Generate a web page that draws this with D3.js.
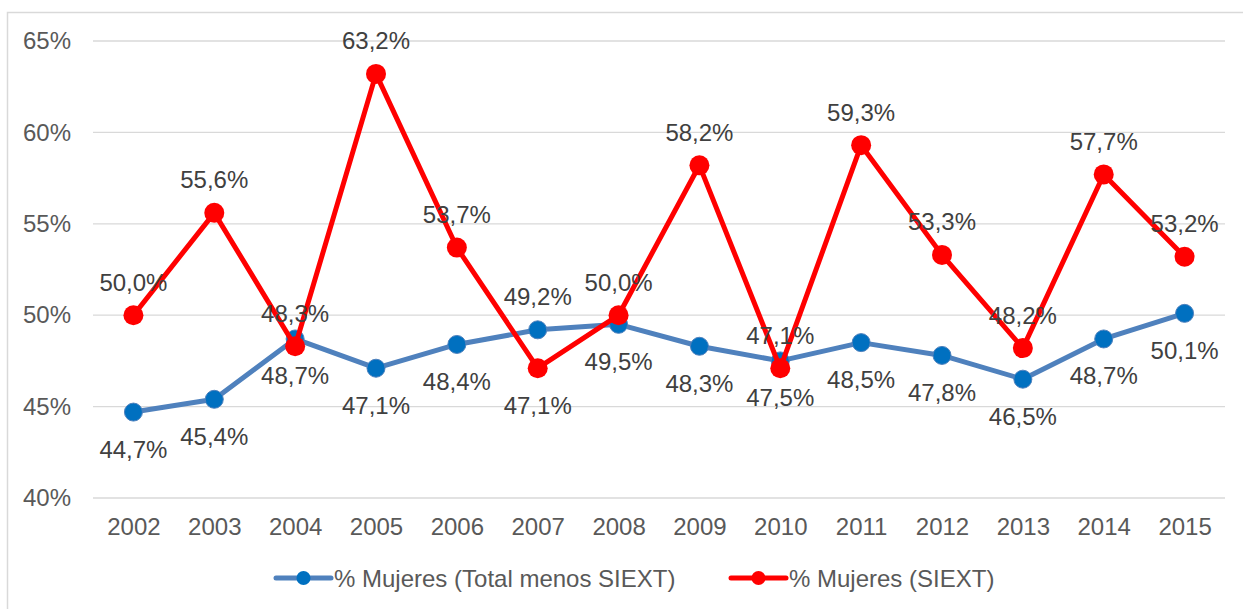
<!DOCTYPE html>
<html>
<head>
<meta charset="utf-8">
<script src="https://cdn.jsdelivr.net/npm/d3@7"></script>
<style>
  body { margin: 0; background: #fff; }
  svg { display: block; font-family: "Liberation Sans", Arial, sans-serif; }
</style>
</head>
<body>
<div id="chart"></div>
<script>
// Categories and series
const years = ["2002", "2003", "2004", "2005", "2006", "2007", "2008", "2009", "2010", "2011", "2012", "2013", "2014", "2015"];
const totalMenosSiext = [44.7, 45.4, 48.7, 47.1, 48.4, 49.2, 49.5, 48.3, 47.5, 48.5, 47.8, 46.5, 48.7, 50.1];
const siext = [50.0, 55.6, 48.3, 63.2, 53.7, 47.1, 50.0, 58.2, 47.1, 59.3, 53.3, 48.2, 57.7, 53.2];
const yTicks = [40, 45, 50, 55, 60, 65];
const seriesNames = ["% Mujeres (Total menos SIEXT)", "% Mujeres (SIEXT)"];

// years whose label sits on the other side of the point
const blueFlip = ["2007"];
const redFlip = ["2007"];

const W = 1243, H = 609;
const plotLeft = 93, plotRight = 1225, plotTop = 41, plotBottom = 498;
const fontSize = 24;

const svg = d3.select("#chart").append("svg")
    .attr("width", W)
    .attr("height", H);

// outer chart border (only left and top are inside the frame)
svg.append("rect")
    .attr("x", 7.5).attr("y", 12.5)
    .attr("width", W + 20).attr("height", H + 20)
    .attr("fill", "none")
    .attr("stroke", "#d9d9d9")
    .attr("stroke-width", 1.5);

const x = d3.scalePoint().domain(years).range([plotLeft, plotRight]).padding(0.5);
const y = d3.scaleLinear().domain([40, 65]).range([plotBottom, plotTop]);

const fmt = v => d3.format(".1f")(v).replace(".", ",") + "%";

// gridlines
svg.append("g")
    .selectAll("line")
    .data(yTicks)
    .join("line")
    .attr("x1", plotLeft).attr("x2", plotRight)
    .attr("y1", d => y(d)).attr("y2", d => y(d))
    .attr("stroke", "#d9d9d9")
    .attr("stroke-width", 1.3);

// y axis labels
const yAxis = svg.append("g")
    .attr("transform", `translate(${plotLeft},0)`)
    .call(d3.axisLeft(y).tickValues(yTicks).tickSize(0).tickPadding(22).tickFormat(d => d + "%"));
yAxis.select(".domain").remove();
yAxis.selectAll("text")
    .attr("font-size", fontSize)
    .attr("font-family", "Liberation Sans, Arial, sans-serif")
    .attr("fill", "#595959");

// x axis labels
const xAxis = svg.append("g")
    .attr("transform", `translate(0,${plotBottom})`)
    .call(d3.axisBottom(x).tickSize(0).tickPadding(20));
xAxis.select(".domain").remove();
xAxis.selectAll("text")
    .attr("font-size", fontSize)
    .attr("font-family", "Liberation Sans, Arial, sans-serif")
    .attr("fill", "#595959");

const blueData = years.map((yr, i) => ({ year: yr, value: totalMenosSiext[i] }));
const redData = years.map((yr, i) => ({ year: yr, value: siext[i] }));

const line = d3.line().x(d => x(d.year)).y(d => y(d.value));

// blue series
svg.append("path")
    .datum(blueData)
    .attr("d", line)
    .attr("fill", "none")
    .attr("stroke", "#4f81bd")
    .attr("stroke-width", 5)
    .attr("stroke-linejoin", "round");

svg.append("g")
    .selectAll("circle")
    .data(blueData)
    .join("circle")
    .attr("cx", d => x(d.year))
    .attr("cy", d => y(d.value))
    .attr("r", 9)
    .attr("fill", "#0070c0")
    .attr("stroke", "#4f81bd")
    .attr("stroke-width", 1);

// red series
svg.append("path")
    .datum(redData)
    .attr("d", line)
    .attr("fill", "none")
    .attr("stroke", "#ff0000")
    .attr("stroke-width", 5)
    .attr("stroke-linejoin", "round");

svg.append("g")
    .selectAll("circle")
    .data(redData)
    .join("circle")
    .attr("cx", d => x(d.year))
    .attr("cy", d => y(d.value))
    .attr("r", 10)
    .attr("fill", "#ff0000");

// data labels
function addLabels(data, below, flip) {
    svg.append("g")
        .selectAll("text")
        .data(data)
        .join("text")
        .attr("x", d => x(d.year))
        .attr("y", d => {
            const b = flip.includes(d.year) ? !below : below;
            return y(d.value) + (b ? 37 : -33);
        })
        .attr("text-anchor", "middle")
        .attr("dominant-baseline", "central")
        .attr("font-size", fontSize)
        .attr("fill", "#404040")
        .text(d => fmt(d.value));
}
addLabels(blueData, true, blueFlip);
addLabels(redData, false, redFlip);

// legend
const legendY = 578;
const legendItems = [
    { name: seriesNames[0], x0: 276, line: "#4f81bd", dot: "#0070c0" },
    { name: seriesNames[1], x0: 731, line: "#ff0000", dot: "#ff0000" }
];
const lg = svg.append("g")
    .selectAll("g")
    .data(legendItems)
    .join("g")
    .attr("transform", d => `translate(${d.x0},${legendY})`);
lg.append("line")
    .attr("x1", 0).attr("x2", 55)
    .attr("stroke", d => d.line)
    .attr("stroke-width", 5)
    .attr("stroke-linecap", "round");
lg.append("circle")
    .attr("cx", 27.5)
    .attr("r", 7)
    .attr("fill", d => d.dot);
lg.append("text")
    .attr("x", 58)
    .attr("dominant-baseline", "central")
    .attr("font-size", fontSize)
    .attr("fill", "#595959")
    .text(d => d.name);
</script>
</body>
</html>
